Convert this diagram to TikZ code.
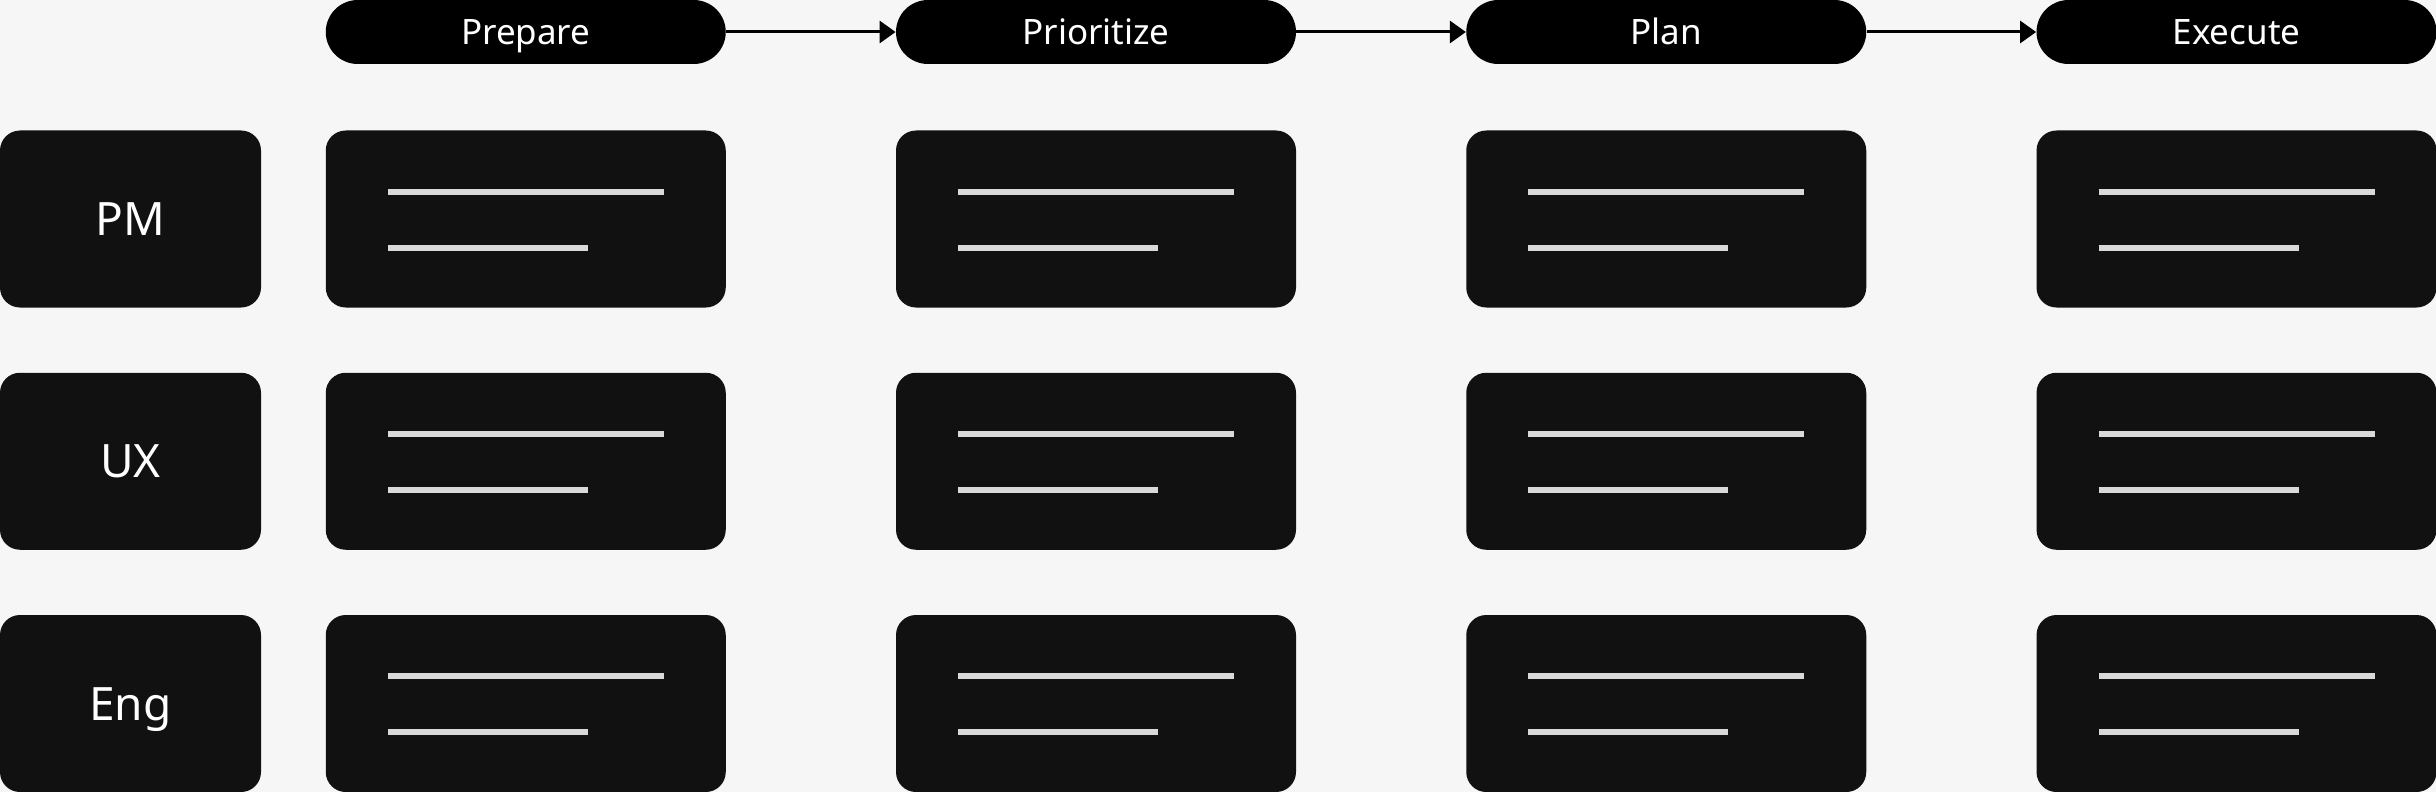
\documentclass[tikz,border=0pt]{standalone}
\usepackage{fontspec}
\setmainfont{Noto Sans}
\usetikzlibrary{arrows.meta,calc}
\definecolor{pagebg}{HTML}{F6F6F6}
\definecolor{boxfill}{HTML}{111111}
\definecolor{barfill}{HTML}{D9D9D9}

\begin{document}
\begin{tikzpicture}[x=0.5pt,y=-0.5pt,
  phase/.style={fill=black,text=white,rounded corners=16pt,minimum width=200pt,
    minimum height=32pt,inner sep=0pt,text height=12.5pt,text depth=0pt,
    font=\fontsize{17.5}{20}\selectfont},
  role/.style={fill=boxfill,text=white,rounded corners=10pt,minimum width=130.5pt,
    minimum height=88.5pt,inner sep=0pt,text height=16.5pt,text depth=0pt,
    font=\fontsize{23}{26}\selectfont},
  card/.style={fill=boxfill,rounded corners=10pt,minimum width=200pt,
    minimum height=88.5pt,inner sep=0pt},
  bar/.style={draw=barfill,line width=3pt},
  flow/.style={-{Triangle[length=8pt,width=11pt]},line width=1.5pt}]
  \fill[pagebg] (0,0) rectangle (2436,792);
  \useasboundingbox (0,0) rectangle (2436,792);

  % phases
  \node[phase] (prepare) at (525.75,32) {Prepare};
  \node[phase] (prioritize) at (1096,32) {Prioritize};
  \node[phase] (plan) at (1666.25,32) {Plan};
  \node[phase] (execute) at (2236.5,32) {Execute};
  \draw[flow] (prepare) -- (prioritize);
  \draw[flow] (prioritize) -- (plan);
  \draw[flow] (plan) -- (execute);

  % roles
  \node[role] (pm) at (130.5,219) {PM};
  \node[role] (ux) at (130.5,461.25) {UX};
  \node[role] (eng) at (130.5,703.5) {Eng};

  % cards
  \foreach \i in {0,...,3}
    \foreach \j in {0,1,2} {
      \node[card] (card-\i-\j) at ({525.75+570.25*\i},{219+242.25*\j}) {};
      \draw[bar] ($(card-\i-\j.center)+(-138,-27.5)$) -- ++(276,0);
      \draw[bar] ($(card-\i-\j.center)+(-138,28.5)$) -- ++(200,0);
    }
\end{tikzpicture}
\end{document}
